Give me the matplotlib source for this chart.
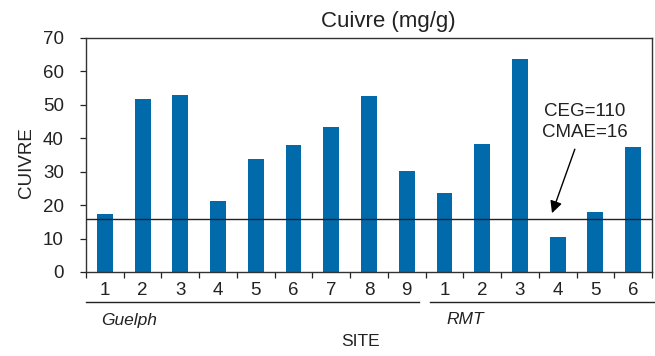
import matplotlib
matplotlib.use("Agg")
import matplotlib.pyplot as plt
from matplotlib.lines import Line2D
import numpy as np

plt.rcParams['font.family'] = ['Liberation Sans', 'DejaVu Sans']

sites = ["1", "2", "3", "4", "5", "6", "7", "8", "9", "1", "2", "3", "4", "5", "6"]
cuivre = [17.5, 51.7, 53.0, 21.2, 33.8, 38.0, 43.4, 52.6, 30.2,
          23.6, 38.3, 63.7, 10.5, 17.9, 37.4]
groups = ["Guelph", "RMT"]
cmae = 16
annot_text = "CEG=110\nCMAE=16"

fig = plt.figure(figsize=(6.55, 3.56), dpi=100)
ax = fig.add_axes([86/655, 1-272/356, (652-86)/655, (272-38)/356])

x = np.arange(len(cuivre))
ax.bar(x, cuivre, width=0.42, color='#006aab', zorder=2)
ax.axhline(cmae, color='#222222', lw=1.0, zorder=3)

ax.set_xlim(-0.5, 14.4)
ax.set_ylim(0, 70)
ax.set_yticks(range(0, 71, 10))
ax.tick_params(axis='y', labelsize=13.5, length=4, width=0.9, pad=12, colors='#222222')
ax.set_xticks(x)
ax.set_xticklabels(sites)
ax.tick_params(axis='x', which='major', length=0, labelsize=13.5, pad=7, colors='#222222')
ax.set_xticks(np.arange(-0.5, 14.6, 1), minor=True)
ax.tick_params(axis='x', which='minor', length=4, width=0.9, color='#222222')
for s in ax.spines.values():
    s.set_color('#333333')
    s.set_linewidth(1.0)

ax.annotate(annot_text, xy=(11.85, 17.6), xytext=(12.71, 44.8),
            ha='center', va='center', fontsize=13.5, linespacing=1.3, color='#222222',
            arrowprops=dict(arrowstyle='-|>', color='black', lw=1.0,
                            mutation_scale=18, shrinkA=4, shrinkB=0))

fig.text(388/655, 1-22/356, "Cuivre (mg/g)", ha='center', va='center', fontsize=16, color='#222222')
fig.text(26/655, 1-163/356, "CUIVRE", rotation=90, ha='center', va='center', fontsize=13.5, color='#222222')
fig.text(361/655, 1-342/356, "SITE", ha='center', va='center', fontsize=12.5, color='#222222')
fig.text(101/655, 1-320/356, groups[0], ha='left', va='center', fontsize=12.5, style='italic', color='#222222')
fig.text(446/655, 1-320/356, groups[1], ha='left', va='center', fontsize=12.5, style='italic', color='#222222')
fig.add_artist(Line2D([86/655, 419/655], [1-302/356]*2, color='#222222', lw=1.0))
fig.add_artist(Line2D([430/655, 655/655], [1-302/356]*2, color='#222222', lw=1.0))

fig.savefig("out.png", dpi=100)
